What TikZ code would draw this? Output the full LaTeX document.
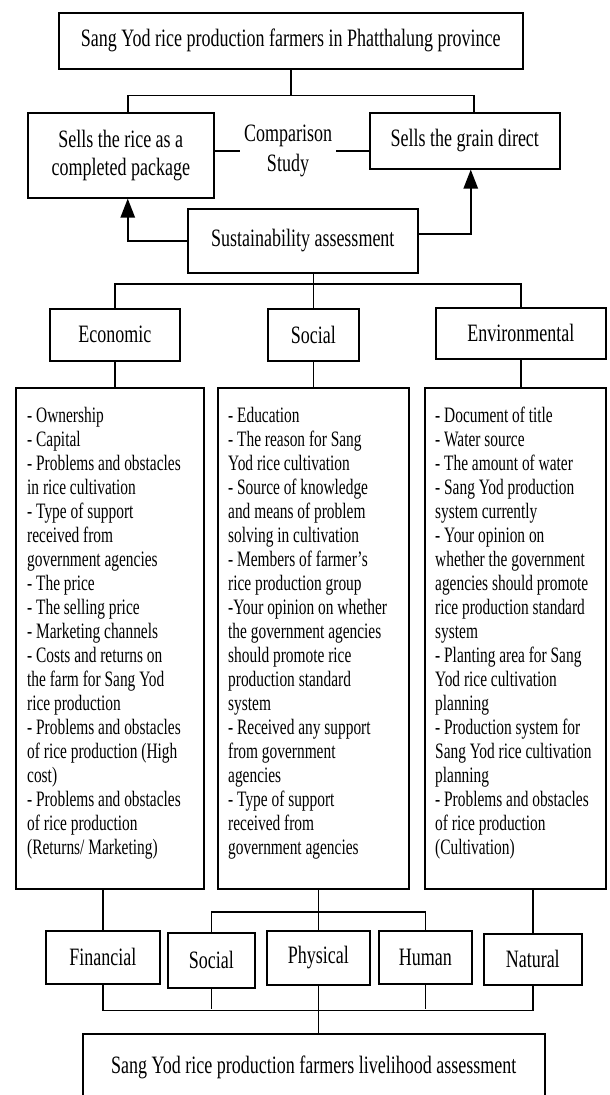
\documentclass[tikz,border=0pt]{standalone}
\usepackage{fontspec}
\setmainfont{Liberation Serif}[FakeStretch=0.70]
\newfontfamily\headfont{Liberation Serif}[FakeStretch=0.72]
\usetikzlibrary{arrows.meta}

\begin{document}
\begin{tikzpicture}[x=1pt,y=-1pt]

    \tikzset{
      box/.style={
        draw,
        line width=1.5pt,
        anchor=north west,
        inner sep=0pt,
        align=center,
        font=\headfont\fontsize{25}{28}\selectfont,
      },
      listbox/.style={draw, line width=1.5pt, anchor=north west, inner sep=0pt},
      items/.style={anchor=north west, inner sep=0pt, align=left, font=\fontsize{22}{24}\selectfont},
      link/.style={line width=1.5pt},
      push/.style={line width=2.5pt, -{Triangle[length=19pt,width=14pt]}},
    }
    \useasboundingbox (0,0) rectangle (610,1095);
    \clip (0,0) rectangle (610,1095);

    % study frame
    \draw (58,12) node[box, minimum width=464pt, minimum height=56pt] (farmers) {Sang Yod rice production farmers in Phatthalung province};
    \draw (27,112) node[box, minimum width=186pt, minimum height=85pt] (package) {Sells the rice as a\\completed package};
    \draw (369,112) node[box, minimum width=190pt, minimum height=56pt] (direct) {Sells the grain direct};
    \draw (288,151) node[align=center, inner sep=4pt, font=\headfont\fontsize{25}{30}\selectfont] (compare) {Comparison\\Study};
    \draw (187,208) node[box, minimum width=230pt, minimum height=64pt] (sustain) {Sustainability assessment};

    \draw[link] (farmers.south) -- ++(0,26) coordinate (farmsplit);
    \draw[link] ([xshift=7pt]package.north) |- (farmsplit) -| ([xshift=9pt]direct.north);
    \draw[link] (package.east |- compare.west) -- (compare.west);
    \draw[link] (compare.east) -- (compare.east -| direct.west);
    \draw[push] (sustain.west) -| ([xshift=7pt]package.south);
    \draw[push] ([yshift=7pt]sustain.east) -| ([xshift=6pt]direct.south);

    % three pillars
    \draw (49,308) node[box, minimum width=130pt, minimum height=52pt] (econ) {Economic};
    \draw (267,308) node[box, minimum width=91pt, minimum height=52pt] (soc) {Social};
    \draw (435,307) node[box, minimum width=170pt, minimum height=51pt] (env) {Environmental};

    \draw[link] (soc.north |- sustain.south) -- (soc.north);
    \draw[link] (econ.north) -- ++(0,-24) -| (env.north);

    \draw (15,387) node[listbox, minimum width=188pt, minimum height=501pt] (econlist) {};
    \draw (217,387) node[listbox, minimum width=191pt, minimum height=501pt] (soclist) {};
    \draw (424,387) node[listbox, minimum width=181pt, minimum height=501pt] (envlist) {};

    \draw[link] (econ.south) -- (econ.south |- econlist.north);
    \draw[link] (soc.south) -- (soc.south |- soclist.north);
    \draw[link] (env.south) -- (env.south |- envlist.north);

    \draw (27,407) node[items] (econitems) {- Ownership\\- Capital\\- Problems and obstacles\\in rice cultivation\\- Type of support\\received from\\government agencies\\- The price\\- The selling price\\- Marketing channels\\- Costs and returns on\\the farm for Sang Yod\\rice production\\- Problems and obstacles\\of rice production (High\\cost)\\- Problems and obstacles\\of rice production\\(Returns/ Marketing)};
    \draw (228,407) node[items] (socitems) {- Education\\- The reason for Sang\\Yod rice cultivation\\- Source of knowledge\\and means of problem\\solving in cultivation\\- Members of farmer’s\\rice production group\\-Your opinion on whether\\the government agencies\\should promote rice\\production standard\\system\\- Received any support\\from government\\agencies\\- Type of support\\received from\\government agencies};
    \draw (435,407) node[items] (envitems) {- Document of title\\- Water source\\- The amount of water\\- Sang Yod production\\system currently\\- Your opinion on\\whether the government\\agencies should promote\\rice production standard\\system\\- Planting area for Sang\\Yod rice cultivation\\planning\\- Production system for\\Sang Yod rice cultivation\\planning\\- Problems and obstacles\\of rice production\\(Cultivation)};

    % five capitals
    \draw (45,930) node[box, minimum width=114pt, minimum height=53pt] (financial) {Financial};
    \draw (167,932) node[box, minimum width=87pt, minimum height=55pt] (social) {Social};
    \draw (266,930) node[box, minimum width=103pt, minimum height=54pt] (physical) {Physical};
    \draw (378,930) node[box, minimum width=93pt, minimum height=53pt] (human) {Human};
    \draw (483,933) node[box, minimum width=98pt, minimum height=51pt] (natural) {Natural};
    \draw (82,1033) node[box, minimum width=462pt, minimum height=67pt] (livelihood) {Sang Yod rice production farmers livelihood assessment};

    \draw[link] (financial.north |- econlist.south) -- (financial.north);
    \draw[link] (physical.north |- soclist.south) -- (physical.north);
    \draw[link] (social.north) -- ++(0,-20) -| (human.north);
    \draw[link] (natural.north |- envlist.south) -- (natural.north);

    \draw[link] (financial.south) -- ++(0,26) coordinate (bus) -| (natural.south);
    \draw[link, shorten >=2pt] (social.south) -- (social.south |- bus);
    \draw[link, shorten >=2pt] (human.south) -- (human.south |- bus);
    \draw[link] (physical.south) -- (livelihood.north -| physical.south);

\end{tikzpicture}
\end{document}
